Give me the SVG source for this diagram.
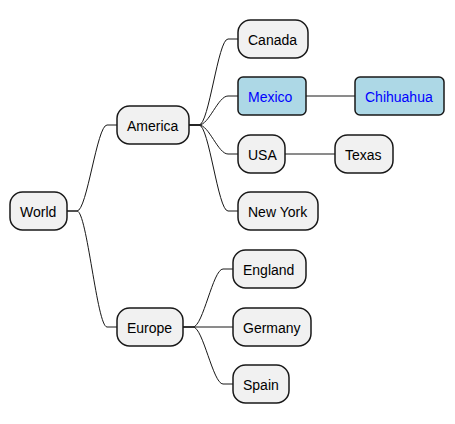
<svg xmlns="http://www.w3.org/2000/svg" width="455" height="424" viewBox="0 0 455 424">
<style>
.n rect{fill:#F1F1F1;stroke:#181818;stroke-width:1.5}
.b rect{fill:#ADD8E6;stroke:#181818;stroke-width:1.5}
text{font-family:"Liberation Sans",Arial,sans-serif;font-size:14px;fill:#000000}
.b text{fill:#0000FF}
#connectors path{fill:none;stroke:#181818;stroke-width:1}
</style>
<rect width="455" height="424" fill="#FFFFFF"/>
<g id="connectors">
<path d="M67,211 L77,211 C87,211 97,125 107,125 L117,125"/>
<path d="M67,211 L77,211 C87,211 97,327 107,327 L117,327"/>
<path d="M189,125 L199,125 C209,125 218,39 228,39 L238,39"/>
<path d="M189,125 L199,125 C209,125 218,96 228,96 L238,96"/>
<path d="M189,125 L199,125 C209,125 218,154 228,154 L238,154"/>
<path d="M189,125 L199,125 C209,125 218,211 228,211 L238,211"/>
<path d="M306,96 L355,96"/>
<path d="M285,154 L335,154"/>
<path d="M183,327 L193,327 C203,327 213,269 223,269 L233,269"/>
<path d="M183,327 L233,327"/>
<path d="M183,327 L193,327 C203,327 213,384 223,384 L233,384"/>
</g>
<g id="world" class="n"><rect x="10" y="192" width="57" height="38" rx="12.5"/><text x="20" y="216.5">World</text></g>
<g id="america" class="n"><rect x="117" y="106" width="72" height="38" rx="12.5"/><text x="127" y="130.5">America</text></g>
<g id="canada" class="n"><rect x="238" y="20" width="70" height="38" rx="12.5"/><text x="248" y="44.5">Canada</text></g>
<g id="mexico" class="b"><rect x="238" y="77" width="68" height="38" rx="5"/><text x="248" y="101.5">Mexico</text></g>
<g id="chihuahua" class="b"><rect x="355" y="77" width="89" height="38" rx="5"/><text x="365" y="101.5">Chihuahua</text></g>
<g id="usa" class="n"><rect x="238" y="135" width="47" height="38" rx="12.5"/><text x="248" y="159.5">USA</text></g>
<g id="texas" class="n"><rect x="335" y="135" width="58" height="38" rx="12.5"/><text x="345" y="159.5">Texas</text></g>
<g id="newyork" class="n"><rect x="238" y="192" width="80" height="38" rx="12.5"/><text x="248" y="216.5">New York</text></g>
<g id="europe" class="n"><rect x="117" y="308" width="66" height="38" rx="12.5"/><text x="127" y="332.5">Europe</text></g>
<g id="england" class="n"><rect x="233" y="250" width="73" height="38" rx="12.5"/><text x="243" y="274.5">England</text></g>
<g id="germany" class="n"><rect x="233" y="308" width="78" height="38" rx="12.5"/><text x="243" y="332.5">Germany</text></g>
<g id="spain" class="n"><rect x="233" y="365" width="56" height="38" rx="12.5"/><text x="243" y="389.5">Spain</text></g>
</svg>
